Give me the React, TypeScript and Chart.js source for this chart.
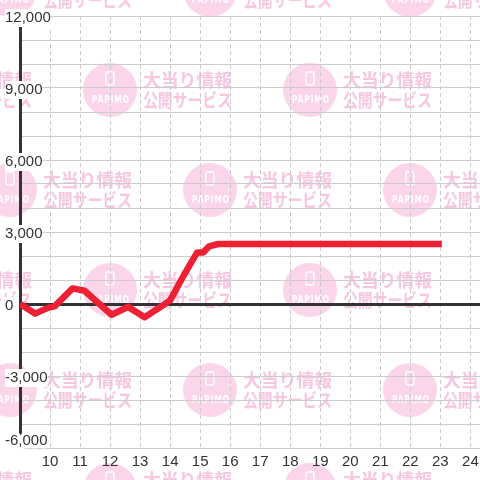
import { useEffect, useRef } from 'react';
import { Chart, registerables } from 'chart.js';

Chart.register(...registerables);

// x: hour of day, y: balance (difference in medals)
const hours = [9.0, 9.5, 9.95, 10.15, 10.75, 11.15, 12.05, 12.6, 13.15, 13.65, 14.0, 14.5, 14.9, 15.1, 15.3, 15.6, 23.05];
const values = [0, -400, -150, -100, 650, 550, -450, -120, -550, -150, 150, 1300, 2150, 2150, 2400, 2500, 2500];
const xTickValues = [10, 11, 12, 13, 14, 15, 16, 17, 18, 19, 20, 21, 22, 23, 24];
const yLabelValues = [-6000, -3000, 0, 3000, 6000, 9000, 12000];
const yMin = -6000;
const yMax = 12000;
const xMin = 9;
const xMax = 24.32;

const watermarkPlugin = {
  id: 'watermark',
  beforeDraw(chart: any) {
    const { ctx, width, height } = chart;
    ctx.save();
    ctx.fillStyle = '#ffffff';
    ctx.fillRect(0, 0, width, height);
    for (let row = 0; row < 6; row++) {
      const cy = -10 + row * 100;
      const startX = row % 2 === 0 ? 10 : -90;
      for (let cx = startX; cx < width + 100; cx += 200) {
        ctx.fillStyle = 'rgb(251,213,234)';
        ctx.beginPath();
        ctx.arc(cx, cy, 27, 0, Math.PI * 2);
        ctx.fill();
        ctx.strokeStyle = '#ffffff';
        ctx.lineWidth = 1.3;
        ctx.beginPath();
        (ctx as any).roundRect ? ctx.roundRect(cx - 4, cy - 18, 8, 13, 1.5) : ctx.rect(cx - 4, cy - 18, 8, 13);
        ctx.stroke();
        ctx.fillStyle = '#ffffff';
        ctx.font = 'bold 11px "DejaVu Sans", sans-serif';
        ctx.textAlign = 'center';
        ctx.textBaseline = 'middle';
        try { (ctx as any).letterSpacing = '1.5px'; } catch (e) {}
        ctx.fillText('PAPIMO', cx + 1, cy + 10, 38);
        try { (ctx as any).letterSpacing = '0px'; } catch (e) {}
        ctx.fillStyle = 'rgb(247,198,225)';
        ctx.font = 'bold 18px "Noto Sans CJK JP", sans-serif';
        ctx.textAlign = 'left';
        ctx.fillText('大当り情報', cx + 33, cy - 10, 89);
        ctx.fillText('公開サービス', cx + 33, cy + 10, 89);
      }
    }
    ctx.restore();
  },
};

export default function App() {
  const canvasRef = useRef<HTMLCanvasElement | null>(null);

  useEffect(() => {
    document.body.style.margin = '0';
    const canvas = canvasRef.current;
    if (!canvas) return;
    const isBottom = (ctx: any) => ctx.tick && ctx.tick.value === yMin;
    const chart = new Chart(canvas, {
      type: 'line',
      data: {
        datasets: [
          {
            data: hours.map((h, i) => ({ x: h, y: values[i] })),
            borderColor: 'rgb(238,32,52)',
            borderWidth: 6.5,
            borderJoinStyle: 'round',
            borderCapStyle: 'butt',
            pointRadius: 0,
            pointHoverRadius: 0,
            tension: 0,
            fill: false,
          },
        ],
      },
      options: {
        animation: false,
        responsive: false,
        events: [],
        layout: { padding: { top: 16, left: 0, right: 0, bottom: 0 } },
        plugins: {
          legend: { display: false },
          tooltip: { enabled: false },
        },
        scales: {
          x: {
            type: 'linear',
            min: xMin,
            max: xMax,
            afterBuildTicks: (scale: any) => {
              scale.ticks = xTickValues.map((v) => ({ value: v }));
            },
            afterFit: (scale: any) => {
              scale.height = 32;
              scale.paddingLeft = 0;
              scale.paddingRight = 0;
            },
            ticks: {
              font: { size: 15, family: '"Liberation Sans", Arial, sans-serif' },
              color: '#333333',
              padding: 5,
              maxRotation: 0,
              autoSkip: false,
              callback: (v: any) => String(v),
            },
            grid: {
              color: '#cacaca',
              lineWidth: 1,
              drawTicks: false,
            },
            border: { display: false, dash: [4, 3] },
          },
          y: {
            type: 'linear',
            min: yMin,
            max: yMax,
            afterFit: (scale: any) => {
              scale.width = 20;
              scale.paddingTop = 0;
              scale.paddingBottom = 0;
            },
            ticks: {
              stepSize: 1000,
              mirror: true,
              padding: -15,
              labelOffset: 2,
              font: { size: 15, family: '"Liberation Sans", Arial, sans-serif' },
              color: '#333333',
              autoSkip: false,
              showLabelBackdrop: true,
              backdropColor: (ctx: any) =>
                ctx.tick && yLabelValues.includes(ctx.tick.value) && !isBottom(ctx)
                  ? '#ffffff'
                  : 'rgba(0,0,0,0)',
              backdropPadding: 0,
              textStrokeColor: (ctx: any) => (isBottom(ctx) ? '#ffffff' : 'rgba(0,0,0,0)'),
              textStrokeWidth: (ctx: any) => (isBottom(ctx) ? 7 : 0),
              callback: (v: any) => {
                const n = Number(v);
                if (!yLabelValues.includes(n)) return '';
                const s = n.toLocaleString('en-US');
                // lowest label sits just above the x-axis labels
                return n === yMin ? [s, ''] : s;
              },
            },
            grid: {
              color: (ctx: any) => (ctx.tick && ctx.tick.value === 0 ? '#333333' : '#cccccc'),
              lineWidth: (ctx: any) => (ctx.tick && ctx.tick.value === 0 ? 3 : 1),
              drawTicks: false,
            },
            border: { display: true, color: '#333333', width: 3 },
          },
        },
      },
      plugins: [watermarkPlugin],
    } as any);
    return () => chart.destroy();
  }, []);

  return (
    <div style={{ position: 'fixed', left: 0, top: 0, width: 480, height: 480 }}>
      <canvas ref={canvasRef} width={480} height={480} style={{ display: 'block' }} />
    </div>
  );
}
